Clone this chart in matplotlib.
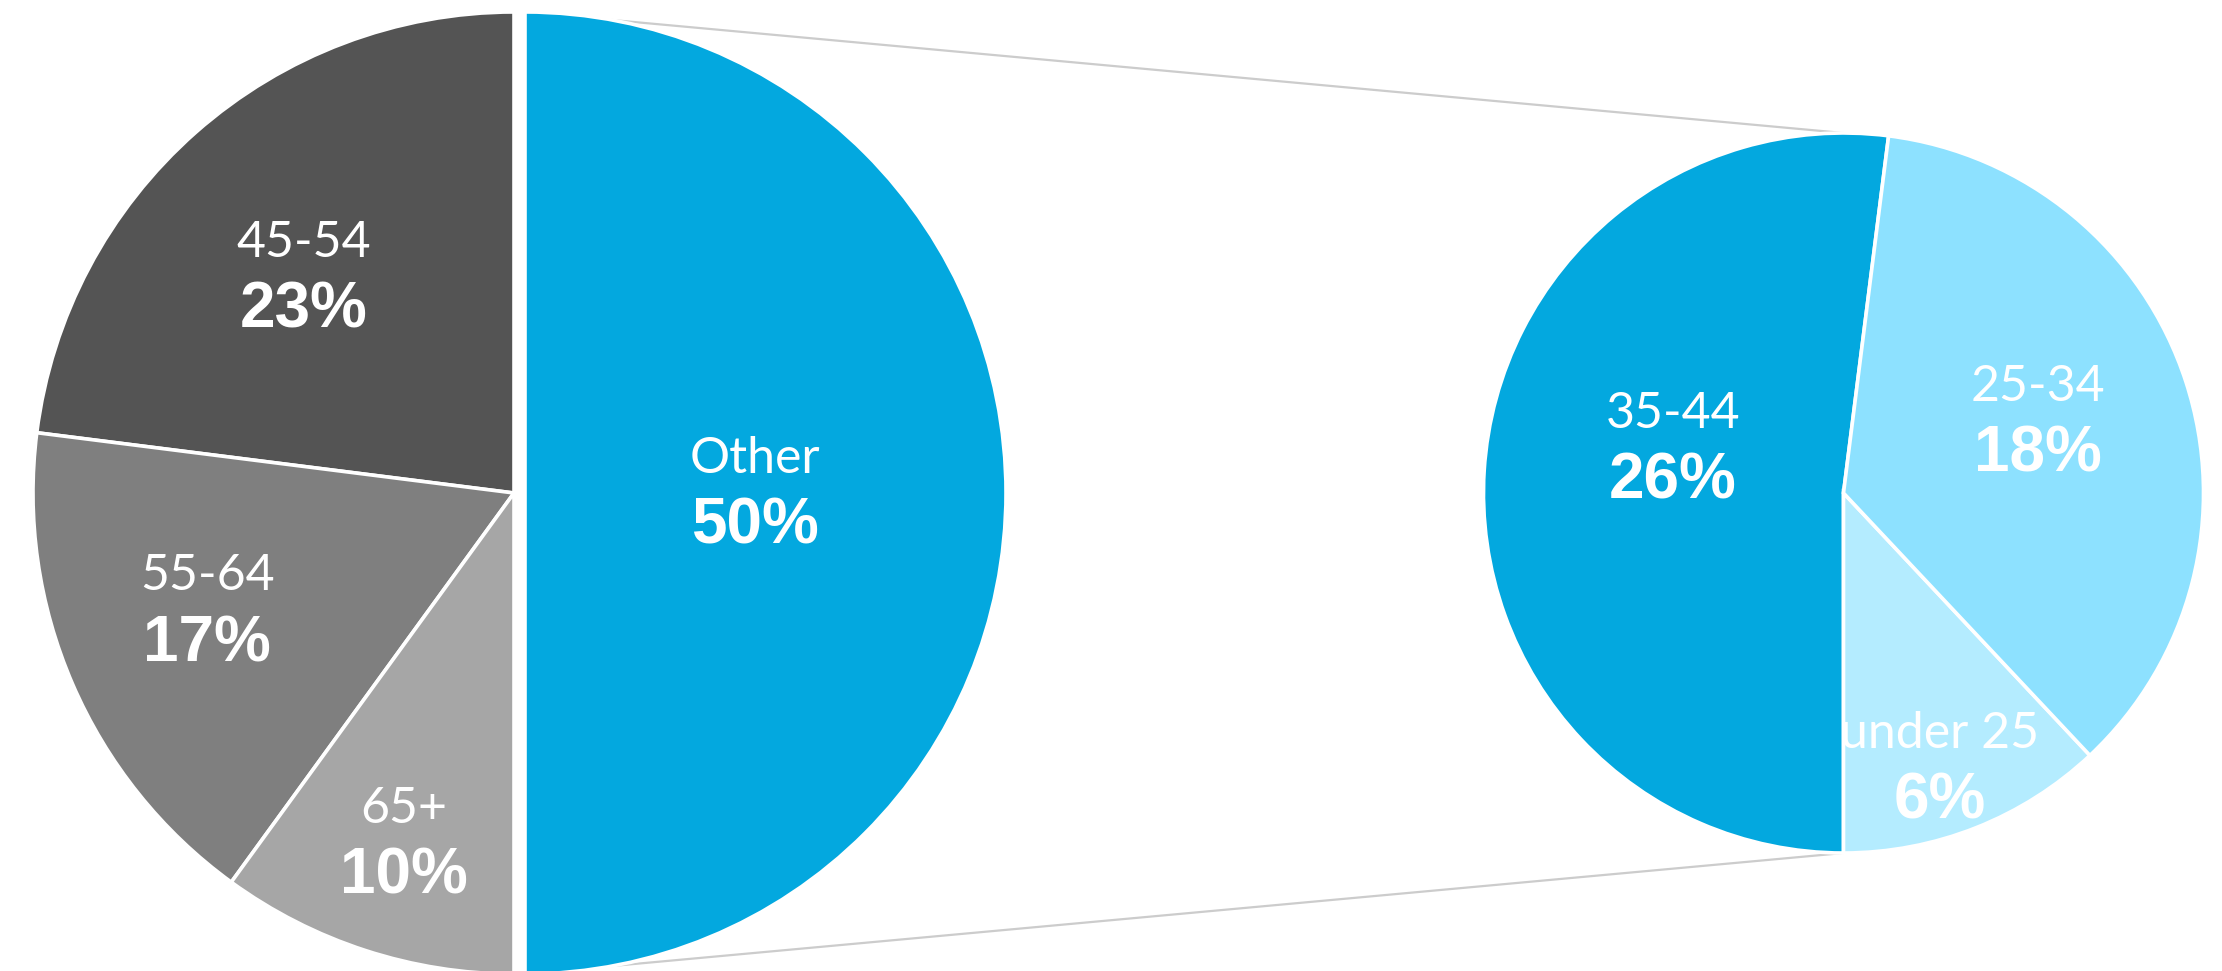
import matplotlib
matplotlib.use("Agg")
import matplotlib.pyplot as plt

# ---- data -------------------------------------------------------------
main_labels = ["45-54", "55-64", "65+", "Other"]
main_values = [23, 17, 10, 50]

detail_labels = ["35-44", "under 25", "25-34"]
detail_values = [26, 6, 18]

# ---- styling / layout -------------------------------------------------
main_colors = ["#545454", "#7f7f7f", "#a6a6a6", "#03a8df"]
detail_colors = ["#03a8df", "#b4ecff", "#8de1ff"]
connector_color = "#cccccc"

W, H = 2222, 971
main_center = (514, H - 493)
main_radius = 481
detail_center = (1843.5, H - 493)
detail_radius = 360
other_offset = 11  # how far the "Other" slice is pulled out (data units = px)

# label anchors (name baseline) relative to each pie centre, in radii
main_label_pos = [(-0.437, 0.491), (-0.638, -0.202), (-0.229, -0.686), (0.501, 0.042)]
detail_label_pos = [(-0.474, 0.181), (0.268, -0.708), (0.540, 0.256)]
value_drop = 71  # baseline distance between name and percentage

name_font = dict(family=["Lato", "DejaVu Sans"], weight="normal", size=36, color="white")
value_font = dict(family=["Liberation Sans", "DejaVu Sans"], weight="bold", size=46, color="white")

fig = plt.figure(figsize=(W / 100, H / 100), dpi=100)
ax = fig.add_axes([0, 0, 1, 1])

edge = dict(edgecolor="white", linewidth=2.6)

ax.pie(main_values, colors=main_colors, startangle=90, counterclock=True,
       explode=[0, 0, 0, other_offset], center=main_center, radius=main_radius,
       wedgeprops=edge)

first_share = detail_values[0] / sum(detail_values)
ax.pie(detail_values, colors=detail_colors, startangle=270 - 360 * first_share,
       counterclock=True, center=detail_center, radius=detail_radius,
       wedgeprops=edge)

# connectors from the pulled-out "Other" slice to the detail pie
ox = main_center[0] + other_offset
for sign in (1, -1):
    ax.plot([ox, detail_center[0]],
            [main_center[1] + sign * main_radius, detail_center[1] + sign * detail_radius],
            color=connector_color, linewidth=1.6, zorder=0, solid_capstyle="butt")


def put_labels(center, radius, names, values, positions):
    for name, val, (fx, fy) in zip(names, values, positions):
        x = center[0] + fx * radius
        y = center[1] + fy * radius
        ax.text(x, y, name, ha="center", va="baseline", **name_font)
        ax.text(x, y - value_drop, f"{val}%", ha="center", va="baseline", **value_font)


put_labels(main_center, main_radius, main_labels, main_values, main_label_pos)
put_labels(detail_center, detail_radius, detail_labels, detail_values, detail_label_pos)

ax.set_xlim(0, W)
ax.set_ylim(0, H)
ax.set_aspect("equal")
ax.set_axis_off()

fig.savefig("out.png", dpi=100, facecolor="white")
